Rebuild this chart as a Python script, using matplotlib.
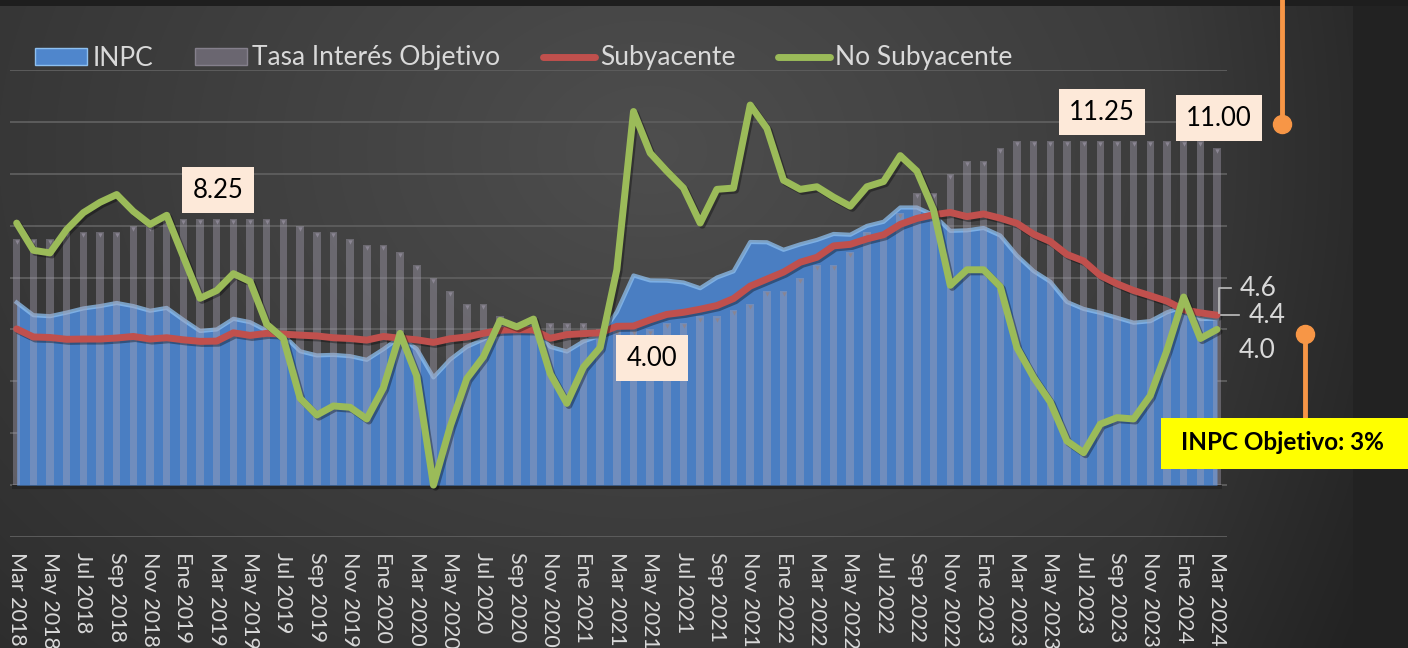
import numpy as np
import matplotlib
matplotlib.use("Agg")
import matplotlib.pyplot as plt
import matplotlib.patheffects as pe
from matplotlib.patches import Patch, Rectangle
from matplotlib.lines import Line2D

plt.rcParams["font.family"] = ["Lato", "DejaVu Sans"]

# inflacion anual (%), mensual de Mar 2018 a Mar 2024
inpc = [5.04, 4.55, 4.51, 4.65, 4.81, 4.90, 5.02, 4.90, 4.72, 4.83,
        4.37, 3.94, 4.00, 4.41, 4.28, 3.95, 3.78, 3.16, 3.00, 3.02, 2.97, 2.83,
        3.24, 3.70, 3.25, 2.15, 2.84, 3.33, 3.62, 4.05, 4.01, 4.09, 3.33, 3.15,
        3.54, 3.76, 4.67, 6.08, 5.89, 5.88, 5.81, 5.59, 6.00, 6.24, 7.37, 7.36,
        7.07, 7.28, 7.45, 7.68, 7.65, 7.99, 8.15, 8.70, 8.70, 8.41, 7.80, 7.82,
        7.91, 7.62, 6.85, 6.25, 5.84, 5.06, 4.79, 4.64, 4.45, 4.26, 4.32, 4.66,
        4.88, 4.40, 4.42]

tasa_objetivo = [7.50, 7.50, 7.50, 7.75, 7.75, 7.75, 7.75, 8.00, 8.00, 8.25,
                 8.25, 8.25, 8.25, 8.25, 8.25, 8.25, 8.25, 8.00, 7.75, 7.75, 7.50, 7.25,
                 7.25, 7.00, 6.50, 6.00, 5.50, 5.00, 5.00, 4.50, 4.25, 4.25, 4.25, 4.25,
                 4.25, 4.00, 4.00, 4.00, 4.00, 4.25, 4.25, 4.50, 4.50, 4.75, 5.00, 5.50,
                 5.50, 6.00, 6.50, 6.50, 7.00, 7.75, 7.75, 8.50, 9.25, 9.25, 10.00, 10.50,
                 10.50, 11.00, 11.25, 11.25, 11.25, 11.25, 11.25, 11.25, 11.25, 11.25, 11.25, 11.25,
                 11.25, 11.25, 11.00]

subyacente = [4.02, 3.71, 3.69, 3.62, 3.63, 3.63, 3.67, 3.73, 3.63, 3.68,
              3.60, 3.54, 3.55, 3.87, 3.77, 3.85, 3.82, 3.78, 3.75, 3.68, 3.65, 3.59,
              3.73, 3.66, 3.60, 3.50, 3.64, 3.71, 3.85, 3.97, 3.99, 3.98, 3.66, 3.80,
              3.84, 3.87, 4.12, 4.13, 4.37, 4.58, 4.66, 4.78, 4.92, 5.19, 5.67, 5.94,
              6.21, 6.59, 6.78, 7.22, 7.28, 7.49, 7.65, 8.05, 8.28, 8.42, 8.51, 8.35,
              8.45, 8.29, 8.09, 7.67, 7.39, 6.89, 6.64, 6.08, 5.76, 5.50, 5.30, 5.09,
              4.76, 4.64, 4.55]

no_subyacente = [8.10, 7.05, 6.95, 7.85, 8.50, 8.90, 9.20, 8.55, 8.05, 8.40,
                 6.80, 5.20, 5.50, 6.15, 5.85, 4.20, 3.65, 1.35, 0.70, 1.05, 1.00, 0.55,
                 1.75, 3.85, 2.20, -2.00, 0.25, 2.10, 2.95, 4.35, 4.10, 4.40, 2.30, 1.15,
                 2.55, 3.30, 6.30, 12.40, 10.80, 10.10, 9.45, 8.10, 9.40, 9.45, 12.65, 11.75,
                 9.75, 9.40, 9.50, 9.10, 8.75, 9.50, 9.70, 10.70, 10.10, 8.60, 5.70, 6.30,
                 6.30, 5.65, 3.30, 2.15, 1.20, -0.30, -0.75, 0.35, 0.60, 0.55, 1.45, 3.20,
                 5.25, 3.65, 4.00]

tick_labels = ["Mar 2018", "May 2018", "Jul 2018", "Sep 2018", "Nov 2018", "Ene 2019",
               "Mar 2019", "May 2019", "Jul 2019", "Sep 2019", "Nov 2019", "Ene 2020",
               "Mar 2020", "May 2020", "Jul 2020", "Sep 2020", "Nov 2020", "Ene 2021",
               "Mar 2021", "May 2021", "Jul 2021", "Sep 2021", "Nov 2021", "Ene 2022",
               "Mar 2022", "May 2022", "Jul 2022", "Sep 2022", "Nov 2022", "Ene 2023",
               "Mar 2023", "May 2023", "Jul 2023", "Sep 2023", "Nov 2023", "Ene 2024",
               "Mar 2024"]

W, H = 1408, 648


def fx(px):
    return px / W


def fy(py):
    return 1 - py / H


fig = plt.figure(figsize=(W / 100, H / 100), dpi=100)

# fondo oscuro con degradado
bg = fig.add_axes([0, 0, 1, 1], zorder=-10)
yy, xx = np.mgrid[0:H, 0:W]
r = np.sqrt(((xx - 650) / 850) ** 2 + ((yy - 150) / 650) ** 2)
v = 78 - 30 * r
v -= np.clip((xx - 1150) / 200, 0, 1) * 10
v[:, 1353:] = 34
v[:6, :] = 30
v = np.clip(v, 28, 90) / 255
bg.imshow(np.dstack([v, v, v]), extent=[0, 1, 0, 1], aspect="auto")
bg.axis("off")

ax = fig.add_axes([fx(10), fy(537), 1217 / W, (537 - 70) / H])
ax.set_facecolor("none")
x = np.arange(len(inpc))

ax.fill_between(x, inpc, -2, color="#4a7ec2", lw=0, zorder=2)
ax.plot(x, inpc, color="#8ec0f0", lw=3, alpha=0.75, zorder=2.1)
ax.hlines(-2.08, x[0] - 0.3, x[-1] + 0.3, color="#262626", lw=3, zorder=1.5)

tasa = np.array(tasa_objetivo)
ax.bar(x, tasa + 2, bottom=-2, width=0.45, color="#aaa4b6", alpha=0.4, lw=0, zorder=3)
ax.scatter(x, tasa - 0.12, marker="v", s=10, color="#8a8592", lw=0, zorder=3.1)

shadow = [pe.SimpleLineShadow(offset=(1.5, -1.5), alpha=0.35), pe.Normal()]
ax.plot(x, subyacente, color="#c0504d", lw=5, solid_capstyle="round",
        path_effects=shadow, zorder=4)
ax.plot(x, no_subyacente, color="#9bbb59", lw=5, solid_capstyle="round",
        path_effects=shadow, zorder=5)

ax.set_xlim(-0.4, 72.6)
ax.set_ylim(-4, 14)
ax.set_yticks(range(-4, 15, 2))
ax.yaxis.grid(True, color="#5c5c5c", lw=1.4)
ax.set_axisbelow(True)
ax.tick_params(axis="y", length=0, labelleft=False)
ax.set_xticks(x[::2])
ax.set_xticklabels(tick_labels, rotation=-90, fontsize=15.5, color="#d9d9d9",
                   va="top", ha="center")
ax.tick_params(axis="x", length=0, pad=11)
for s in ax.spines.values():
    s.set_visible(False)

handles = [Patch(facecolor="#4f86cc", edgecolor="#8ec0f0", lw=1),
           Patch(facecolor="#6a6670", edgecolor="#85808c", lw=1),
           Line2D([], [], color="#c0504d", lw=5, solid_capstyle="round"),
           Line2D([], [], color="#9bbb59", lw=5, solid_capstyle="round")]
fig.legend(handles, ["INPC", "Tasa Interés Objetivo", "Subyacente", "No Subyacente"],
           loc="center left", bbox_to_anchor=(fx(35), fy(58)), ncol=4, frameon=False,
           fontsize=19, handlelength=1.97, handleheight=0.6, handletextpad=0.2,
           columnspacing=1.6, borderpad=0, borderaxespad=0, labelcolor="#d9d9d9")

# etiquetas de la tasa objetivo
for px, py, s in [(218, 190, "8.25"), (652, 358, "4.00"),
                  (1102, 112, "11.25"), (1219, 118, "11.00")]:
    fig.text(fx(px), fy(py), s, ha="center", va="center", fontsize=18.5, color="black",
             bbox=dict(boxstyle="square,pad=0.4", fc="#fde9d9", ec="none"), zorder=10)

# ultimos valores
fig.text(fx(1258), fy(289), "4.6", ha="center", va="center", fontsize=19, color="#d9d9d9")
fig.text(fx(1267), fy(316), "4.4", ha="center", va="center", fontsize=19, color="#d9d9d9")
fig.text(fx(1257), fy(350), "4.0", ha="center", va="center", fontsize=19, color="#d9d9d9")
fig.add_artist(Line2D([fx(1231), fx(1219), fx(1219)], [fy(288), fy(288), fy(313)],
                      color="#bfbfbf", lw=1.2))
fig.add_artist(Line2D([fx(1221), fx(1239)], [fy(315), fy(315)], color="#bfbfbf", lw=1.2))

# marcadores naranjas
naranja = "#f79646"
fig.add_artist(Line2D([fx(1282), fx(1282)], [fy(0), fy(124)], color=naranja, lw=3.5))
fig.add_artist(Line2D([fx(1282)], [fy(124)], marker="o", ms=13, color=naranja))
fig.add_artist(Line2D([fx(1305), fx(1305)], [fy(334), fy(420)], color=naranja, lw=3.5))
fig.add_artist(Line2D([fx(1305)], [fy(334)], marker="o", ms=13, color=naranja))

fig.add_artist(Rectangle((fx(1161), fy(469)), (W - 1161) / W, 51 / H,
                         transform=fig.transFigure, fc="#ffff00", ec="none", zorder=9))
fig.text(fx(1181), fy(443), "INPC Objetivo: 3%", ha="left", va="center", fontsize=17.5,
         fontweight="bold", color="black", zorder=10)

fig.savefig("out.png", dpi=100)
